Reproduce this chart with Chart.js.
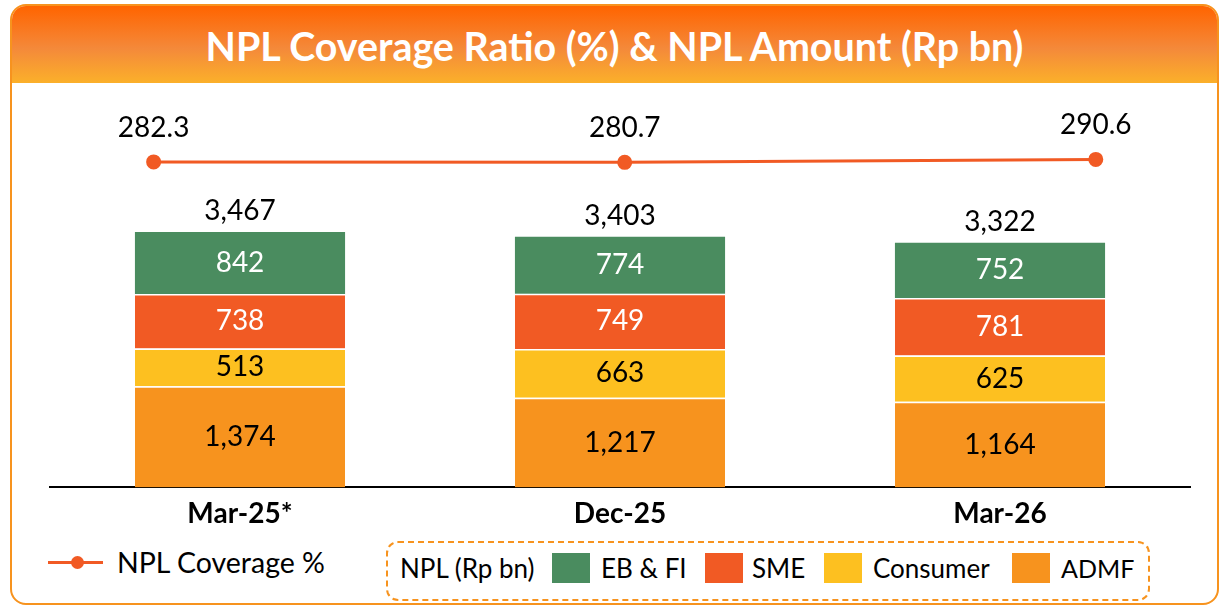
<!DOCTYPE html>
<html>
<head>
<meta charset="utf-8">
<title>NPL Coverage Ratio & NPL Amount</title>
<script src="https://cdn.jsdelivr.net/npm/chart.js@4.4.1/dist/chart.umd.min.js"></script>
<style>
  body { margin: 0; background: #fff; font-family: Lato, "Open Sans", sans-serif; }
  #panel {
    position: absolute; left: 10px; top: 4px; width: 1205px; height: 597px;
    border: 2px solid #f7931e; border-radius: 16px; overflow: hidden;
  }
  #header {
    height: 77px; line-height: 80px; text-align: center; color: #fff;
    font-weight: bold; font-size: 39.4px;
    background: linear-gradient(#ff6400, #f4893a 55%, #fbb02a);
  }
  #wrap { position: absolute; left: 0; top: 85px; width: 1221px; height: 455px; }
  .abs { position: absolute; }
  .txt { font-size: 26px; color: #000; white-space: nowrap; line-height: 30px; }
  .sw { position: absolute; top: 553px; width: 38px; height: 30px; }
  #legbox {
    position: absolute; left: 386px; top: 541px; width: 760px; height: 56px;
    border: 2px dashed #f7931e; border-radius: 12px;
  }
</style>
</head>
<body>
<div id="panel"><div id="header">NPL Coverage Ratio (%) &amp; NPL Amount (Rp bn)</div></div>
<div id="wrap"><canvas id="myChart"></canvas></div>

<!-- line legend -->
<div class="abs" style="left:48px;top:561px;width:55px;height:3px;background:#f15a24"></div>
<div class="abs" style="left:71px;top:556px;width:13px;height:13px;border-radius:50%;background:#f15a24"></div>
<div class="abs txt" style="left:117px;top:547px;font-size:28.5px">NPL Coverage %</div>

<!-- bar legend -->
<div id="legbox"></div>
<div class="abs txt" style="left:400px;top:553px">NPL (Rp bn)</div>
<div class="sw" style="left:552px;background:#4a8c5f"></div>
<div class="abs txt" style="left:601px;top:553px">EB &amp; FI</div>
<div class="sw" style="left:705px;background:#f15a24"></div>
<div class="abs txt" style="left:752px;top:553px">SME</div>
<div class="sw" style="left:824px;background:#fdc020"></div>
<div class="abs txt" style="left:873px;top:553px">Consumer</div>
<div class="sw" style="left:1012px;background:#f7931e"></div>
<div class="abs txt" style="left:1061px;top:553px;font-size:25px">ADMF</div>

<script>
var periods = ["Mar-25*", "Dec-25", "Mar-26"];
var admf = [1374, 1217, 1164];
var consumer = [513, 663, 625];
var sme = [738, 749, 781];
var ebfi = [842, 774, 752];
var totals = [3467, 3403, 3322];
var coverage = [282.3, 280.7, 290.6];

function fmt(v) {
    return v.toLocaleString("en-US");
}

// writes the numbers on the segments, the stack totals and the coverage points
var valueLabels = {
    id: "valueLabels",
    afterDatasetsDraw: function(chart) {
        var ctx = chart.ctx;
        ctx.save();
        ctx.textAlign = "center";
        ctx.textBaseline = "middle";
        ctx.font = "28px Lato";
        chart.data.datasets.forEach(function(ds, di) {
            var meta = chart.getDatasetMeta(di);
            meta.data.forEach(function(el, i) {
                if (ds.type === "line") {
                    ctx.fillStyle = "#000";
                    ctx.fillText(coverage[i].toFixed(1), el.x, el.y - 34);
                } else {
                    ctx.fillStyle = ds.labelColor;
                    ctx.fillText(fmt(ds.data[i]), el.x, (el.y + el.base) / 2);
                }
            });
        });
        var top = chart.getDatasetMeta(4);
        ctx.fillStyle = "#000";
        top.data.forEach(function(el, i) {
            ctx.fillText(fmt(totals[i]), el.x, el.y - 21);
        });
        ctx.restore();
    }
};

var sep = {top: 1.5, left: 0, right: 0, bottom: 0};

const ctx = document.getElementById("myChart");
new Chart(ctx, {
    type: "bar",
    data: {
        labels: periods,
        datasets: [
            {
                type: "line",
                data: coverage.map(function(v, i) { return {x: i, y: v}; }),
                xAxisID: "x2",
                yAxisID: "y2",
                borderColor: "#f15a24",
                backgroundColor: "#f15a24",
                borderWidth: 3,
                pointRadius: 6,
                pointHoverRadius: 6
            },
            {label: "ADMF", data: admf, backgroundColor: "#f7931e", borderColor: "#fff", borderWidth: sep, borderSkipped: false, labelColor: "#000"},
            {label: "Consumer", data: consumer, backgroundColor: "#fdc020", borderColor: "#fff", borderWidth: sep, borderSkipped: false, labelColor: "#000"},
            {label: "SME", data: sme, backgroundColor: "#f15a24", borderColor: "#fff", borderWidth: sep, borderSkipped: false, labelColor: "#fff"},
            {label: "EB & FI", data: ebfi, backgroundColor: "#4a8c5f", borderWidth: 0, labelColor: "#fff"}
        ]
    },
    options: {
        responsive: true,
        maintainAspectRatio: false,
        animation: false,
        layout: {padding: {left: 50, right: 31, top: 5, bottom: 7}},
        datasets: {bar: {categoryPercentage: 1, barPercentage: 0.553, grouped: false}},
        scales: {
            x: {
                stacked: true,
                grid: {display: false},
                border: {color: "#000", width: 2},
                ticks: {color: "#000", padding: 2, font: {family: "Lato", size: 28, weight: "bold"}}
            },
            x2: {type: "linear", display: false, offset: false, min: -0.22, max: 2.2},
            y: {stacked: true, display: false, min: 0, max: 5340},
            y2: {display: false, min: -800, max: 508}
        },
        plugins: {
            legend: {display: false},
            tooltip: {enabled: false}
        }
    },
    plugins: [valueLabels]
});
</script>
</body>
</html>
